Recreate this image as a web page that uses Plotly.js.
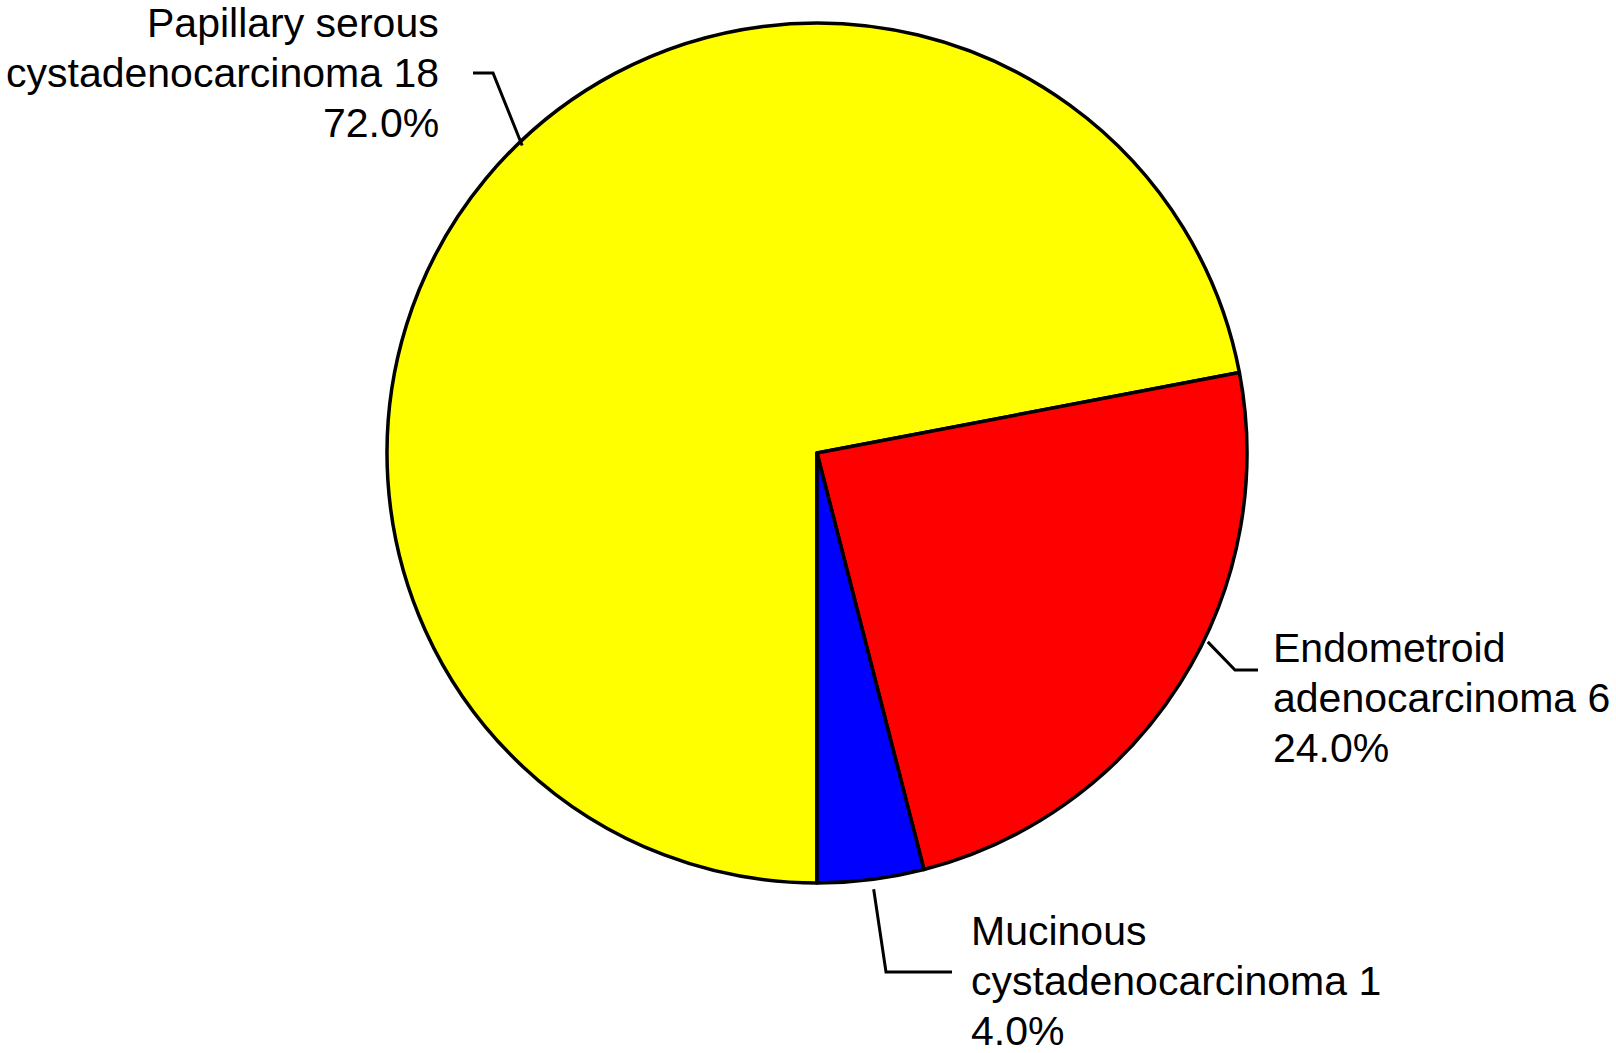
<!DOCTYPE html>
<html>
<head>
<meta charset="utf-8">
<script src="https://cdn.plot.ly/plotly-3.0.1.min.js"></script>
<style>
  html, body { margin: 0; padding: 0; background: #fff; }
  #chart { width: 1616px; height: 1053px; }
</style>
</head>
<body>
<div id="chart"></div>
<script>
// ---- data ----
const subtypes = ['Papillary serous cystadenocarcinoma', 'Endometroid adenocarcinoma', 'Mucinous cystadenocarcinoma'];
const nameLines = [['Papillary serous', 'cystadenocarcinoma'], ['Endometroid', 'adenocarcinoma'], ['Mucinous', 'cystadenocarcinoma']];
const caseCounts = [18, 6, 1];
const sliceColors = ['#ffff00', '#ff0000', '#0000ff'];

// ---- layout constants (pixels) ----
const W = 1616, H = 1053;
const cx = 817, cy = 453, R = 430;
const FONT = { family: 'Liberation Sans, Arial, Helvetica, sans-serif', size: 41, color: '#000' };
const LINE_GAP = 50;

// per label: where the leader touches the pie (deg clockwise from 12 o'clock, radius),
// the elbow, the tick end and the text block
const labelPlace = [
  { ang: -43.8, rad: 426, elbow: [493, 73], tick: [473, 73], tx: 440, ty: 23, align: 'right' },
  { ang: 115.8, rad: 434, elbow: [1235, 670], tick: [1258, 670], tx: 1272, ty: 648, align: 'left' },
  { ang: 172.6, rad: 440, elbow: [886, 972], tick: [952, 972], tx: 970, ty: 931, align: 'left' }
];

// pixel -> paper (margins are zero, so paper == figure)
const px = x => x / W;
const py = y => 1 - y / H;

const total = caseCounts.reduce((a, b) => a + b, 0);

const pie = {
  type: 'pie',
  labels: subtypes,
  values: caseCounts,
  sort: false,
  direction: 'clockwise',
  rotation: 180,
  textinfo: 'none',
  hoverinfo: 'skip',
  showlegend: false,
  marker: { colors: sliceColors, line: { color: '#000', width: 3.5 } },
  domain: { x: [px(cx - R), px(cx + R)], y: [py(cy + R), py(cy - R)] }
};

const shapes = [];
const annotations = [];
subtypes.forEach((name, i) => {
  const p = labelPlace[i];
  const a = p.ang * Math.PI / 180;
  const sx = cx + p.rad * Math.sin(a);
  const sy = cy - p.rad * Math.cos(a);
  shapes.push({
    type: 'path', xref: 'paper', yref: 'paper',
    path: `M ${px(sx)},${py(sy)} L ${px(p.elbow[0])},${py(p.elbow[1])} L ${px(p.tick[0])},${py(p.tick[1])}`,
    line: { color: '#000', width: 3 }
  });

  const pct = (caseCounts[i] / total * 100).toFixed(1) + '%';
  const lines = [nameLines[i][0], nameLines[i][1] + ' ' + caseCounts[i], pct];
  lines.forEach((txt, k) => {
    annotations.push({
      xref: 'paper', yref: 'paper',
      x: px(p.tx), y: py(p.ty + k * LINE_GAP),
      xanchor: p.align, yanchor: 'middle', align: p.align,
      borderpad: 0,
      text: txt, showarrow: false, font: FONT
    });
  });
});

const layout = {
  width: W, height: H,
  margin: { l: 0, r: 0, t: 0, b: 0 },
  paper_bgcolor: '#fff',
  plot_bgcolor: '#fff',
  shapes: shapes,
  annotations: annotations
};

Plotly.newPlot('chart', [pie], layout, { displayModeBar: false, staticPlot: true });
</script>
</body>
</html>
